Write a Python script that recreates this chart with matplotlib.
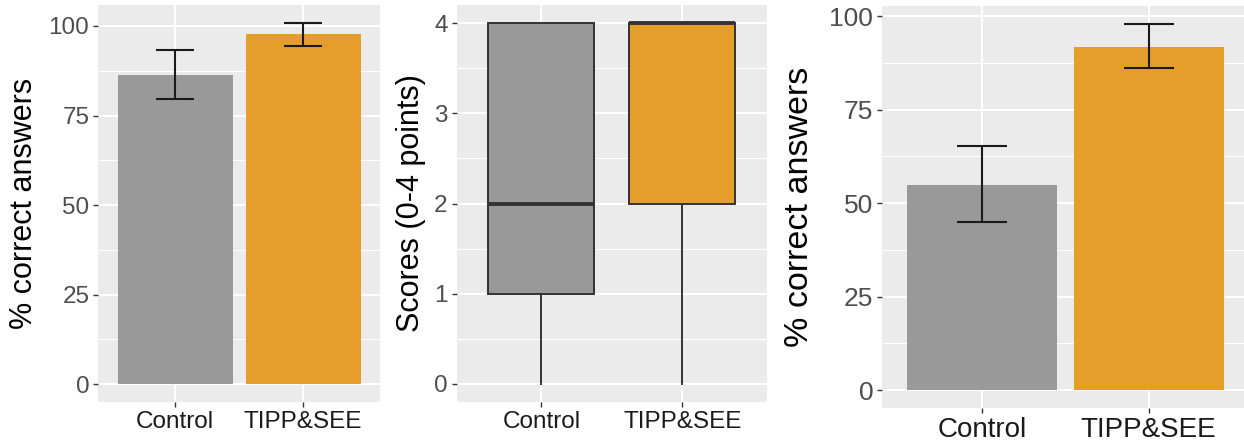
import matplotlib
matplotlib.use("Agg")
import matplotlib.pyplot as plt
from matplotlib.ticker import MultipleLocator

plt.rcParams['font.family'] = ['Liberation Sans', 'DejaVu Sans']

# ---- data ----
groups = ["Control", "TIPP&SEE"]
colors = ["#999999", "#E59E29"]

# panel 1: % correct answers
p1_mean = [86.2, 97.7]
p1_low = [79.5, 94.4]
p1_high = [93.3, 100.8]

# panel 2: boxplot scores (0-4 points)
p2_whislo = [0, 0]
p2_q1 = [1, 2]
p2_med = [2, 4]
p2_q3 = [4, 4]
p2_whishi = [4, 4]

# panel 3: % correct answers
p3_mean = [54.8, 91.8]
p3_low = [45.0, 86.0]
p3_high = [65.2, 97.8]

W, H = 1244, 442
fig = plt.figure(figsize=(W / 100, H / 100), dpi=100)
fig.patch.set_facecolor("white")


def add_ax(left, right, top, bottom):
    return fig.add_axes([left / W, 1 - bottom / H, (right - left) / W, (bottom - top) / H])


def style(ax, major, minor, tick_fs, xtick_fs):
    ax.set_facecolor("#EBEBEB")
    for s in ax.spines.values():
        s.set_visible(False)
    ax.yaxis.set_major_locator(MultipleLocator(major))
    ax.yaxis.set_minor_locator(MultipleLocator(minor))
    ax.grid(which="major", axis="both", color="white", linewidth=1.5)
    ax.grid(which="minor", axis="y", color="white", linewidth=0.75)
    ax.set_axisbelow(True)
    ax.tick_params(axis="both", which="major", length=3.5, width=1.0, color="#333333",
                   pad=3, labelcolor="#4D4D4D")
    ax.tick_params(axis="y", labelsize=tick_fs)
    ax.tick_params(axis="x", labelsize=xtick_fs, labelcolor="#1A1A1A")
    ax.tick_params(axis="y", which="minor", length=0)
    ax.set_xticks([1, 2])
    ax.set_xticklabels(groups)
    ax.set_xlim(0.4, 2.6)


def bar_panel(ax, mean, low, high):
    x = [1, 2]
    ax.bar(x, mean, width=0.9, color=colors, zorder=2)
    err = [[m - l for m, l in zip(mean, low)], [h - m for m, h in zip(mean, high)]]
    ax.errorbar(x, mean, yerr=err, fmt="none", ecolor="#1A1A1A", elinewidth=1.5,
                capsize=0, zorder=3)
    for xi, lo, hi in zip(x, low, high):
        for yv in (lo, hi):
            ax.plot([xi - 0.15, xi + 0.15], [yv, yv], color="#1A1A1A", lw=1.5, zorder=3,
                    solid_capstyle="butt")


# ---- panel 1 ----
ax1 = add_ax(98.3, 380, 5, 402.3)
bar_panel(ax1, p1_mean, p1_low, p1_high)
ax1.set_ylim(-5.04, 105.84)
style(ax1, 25, 12.5, 17.5, 17.5)
fig.text(24 / W, 1 - 203 / H, "% correct answers", rotation=90, ha="center", va="center",
         fontsize=22, color="black")

# ---- panel 2 ----
ax2 = add_ax(456.7, 767, 5, 402)
stats = []
for i, g in enumerate(groups):
    stats.append(dict(label=g, whislo=p2_whislo[i], q1=p2_q1[i], med=p2_med[i],
                      q3=p2_q3[i], whishi=p2_whishi[i], fliers=[]))
bp = ax2.bxp(stats, positions=[1, 2], widths=0.75, patch_artist=True, showcaps=False,
             boxprops=dict(edgecolor="#333333", linewidth=1.4),
             medianprops=dict(color="#333333", linewidth=2.8, solid_capstyle="butt"),
             whiskerprops=dict(color="#333333", linewidth=1.4),
             zorder=2)
for patch, c in zip(bp["boxes"], colors):
    patch.set_facecolor(c)
ax2.set_ylim(-0.2, 4.2)
style(ax2, 1, 0.5, 17.5, 17.5)
fig.text(411 / W, 1 - 203 / H, "Scores (0-4 points)", rotation=90, ha="center", va="center",
         fontsize=22, color="black")

# ---- panel 3 ----
ax3 = add_ax(882.3, 1248.5, 6, 408.3)
bar_panel(ax3, p3_mean, p3_low, p3_high)
ax3.set_ylim(-4.89, 102.69)
style(ax3, 25, 12.5, 19, 20)
fig.text(800 / W, 1 - 207 / H, "% correct answers", rotation=90, ha="center", va="center",
         fontsize=24.5, color="black")

fig.savefig("out.png", dpi=100, facecolor="white")
